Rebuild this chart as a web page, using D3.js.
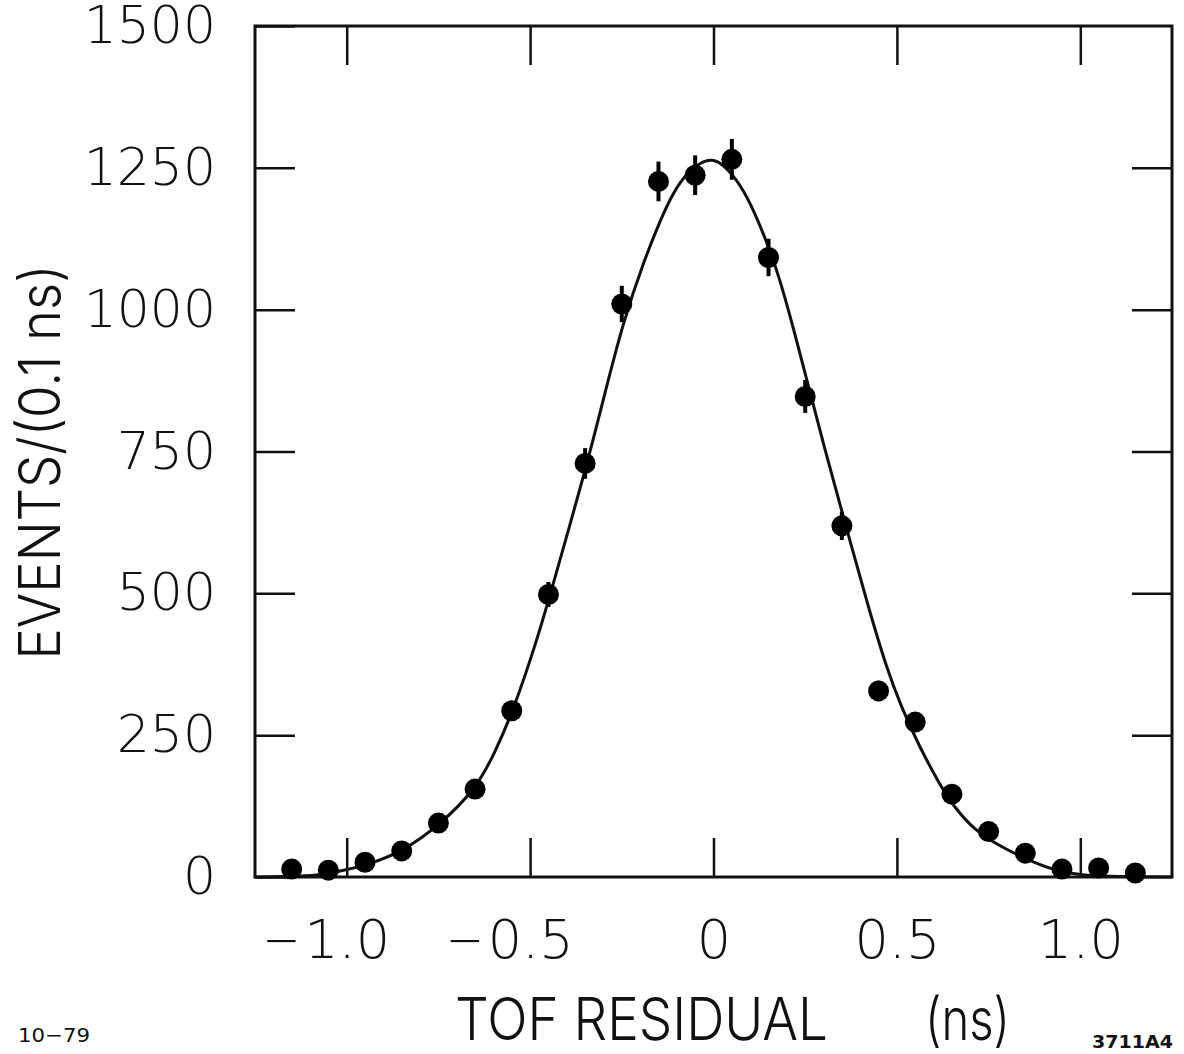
<!DOCTYPE html>
<html>
<head>
<meta charset="utf-8">
<script src="https://cdn.jsdelivr.net/npm/d3@7"></script>
<style>
  body { margin: 0; background: #fff; }
  svg { display: block; }
</style>
</head>
<body>
<script>
// bin centres (ns) and counts per 0.1 ns
const binCentres = [-1.15, -1.05, -0.95, -0.85, -0.75, -0.65, -0.55, -0.45, -0.35, -0.25, -0.15, -0.05,
                    0.05, 0.15, 0.25, 0.35, 0.45, 0.55, 0.65, 0.75, 0.85, 0.95, 1.05, 1.15];
const counts = [14, 12, 26, 46, 95, 155, 293, 498, 729, 1010, 1226, 1237,
                1265, 1092, 847, 619, 328, 273, 146, 80, 42, 14, 16, 7];
const errors = [4, 3, 5, 7, 10, 12, 17, 22, 27, 32, 35, 35,
                36, 33, 29, 25, 18, 17, 12, 9, 6, 4, 4, 3];

// fitted curve
const fitX = [-1.25, -1.15, -1.08, -1.025, -0.943, -0.844, -0.746, -0.648, -0.596, -0.546, -0.481,
              -0.445, -0.344, -0.303, -0.246, -0.186, -0.145, -0.109, -0.071, -0.036, -0.008,
              0.019, 0.060, 0.101, 0.148, 0.178, 0.219, 0.257, 0.301, 0.352, 0.369, 0.421,
              0.475, 0.511, 0.557, 0.620, 0.656, 0.710, 0.784, 0.858, 0.929, 0.995, 1.06, 1.25];
const fitY = [0, 1, 3, 9, 21, 46, 92, 155, 219, 293, 418,
              498, 729, 835, 980, 1092, 1158, 1208, 1242, 1259, 1265,
              1260, 1233, 1189, 1115, 1060, 965, 870, 760, 640, 600, 478,
              362, 302, 235, 159, 124, 83, 53, 30, 12, 4, 1, 0];

const xTicks = [-1.0, -0.5, 0, 0.5, 1.0];
const yTicks = [0, 250, 500, 750, 1000, 1250, 1500];

const W = 1184, H = 1054;
const plotL = 255, plotR = 1172, plotT = 26, plotB = 877;

const svg = d3.select("body").append("svg")
  .attr("width", W)
  .attr("height", H);

const x = d3.scaleLinear().domain([-1.25, 1.25]).range([plotL, plotR]);
const y = d3.scaleLinear().domain([0, 1500]).range([plotB, plotT]);

const tickFont = "'DejaVu Sans', sans-serif";
const titleFont = "Inter, 'DejaVu Sans Condensed', sans-serif";
// the minus sign is drawn apart, hanging left of the number
const fmtX = d => d === 0 ? "0" : Math.abs(d).toFixed(1);

// bottom axis, ticks pointing inward
const xAxis = svg.append("g")
  .attr("transform", "translate(0," + plotB + ")")
  .call(d3.axisBottom(x).tickValues(xTicks).tickSize(-39).tickSizeOuter(0).tickPadding(42).tickFormat(fmtX));

// top axis, ticks only
svg.append("g")
  .attr("transform", "translate(0," + plotT + ")")
  .call(d3.axisTop(x).tickValues(xTicks).tickSize(-39).tickSizeOuter(0).tickFormat(""));

const yAxis = svg.append("g")
  .attr("transform", "translate(" + plotL + ",0)")
  .call(d3.axisLeft(y).tickValues(yTicks).tickSize(-40).tickSizeOuter(0).tickPadding(39).tickFormat(d3.format("d")));

svg.append("g")
  .attr("transform", "translate(" + plotR + ",0)")
  .call(d3.axisRight(y).tickValues(yTicks.slice(1, -1)).tickSize(-40).tickSizeOuter(0).tickFormat(""));

svg.selectAll(".domain").remove();
svg.selectAll(".tick line").attr("stroke", "#111").attr("stroke-width", 2.5);

xAxis.selectAll("text")
  .attr("fill", "#111")
  .style("font-family", tickFont)
  .style("font-weight", "200")
  .style("font-size", "54px")
  .attr("dy", "0.72em");

xAxis.selectAll(".tick").each(function(d) {
  if (d >= 0) return;
  const g = d3.select(this);
  const t = g.select("text");
  const w = t.node().getComputedTextLength();
  g.append("text")
    .text("\u2212")
    .attr("x", -w / 2 - 4)
    .attr("y", t.attr("y"))
    .attr("dy", "0.72em")
    .attr("text-anchor", "end")
    .attr("textLength", 38)
    .attr("lengthAdjust", "spacingAndGlyphs")
    .attr("fill", "#111")
    .style("font-family", tickFont)
    .style("font-weight", "200")
    .style("font-size", "54px");
});

yAxis.selectAll("text")
  .attr("fill", "#111")
  .style("font-family", tickFont)
  .style("font-weight", "200")
  .style("font-size", "52px");

// frame
svg.append("rect")
  .attr("x", plotL).attr("y", plotT)
  .attr("width", plotR - plotL).attr("height", plotB - plotT)
  .attr("fill", "none")
  .attr("stroke", "#111")
  .attr("stroke-width", 3);

// fit curve
const fit = fitX.map((d, i) => [d, fitY[i]]);
svg.append("path")
  .datum(fit)
  .attr("fill", "none")
  .attr("stroke", "#111")
  .attr("stroke-width", 3)
  .attr("d", d3.line().x(d => x(d[0])).y(d => y(d[1])).curve(d3.curveBasis));

// data points with error bars
const pts = binCentres.map((d, i) => ({ x: d, v: counts[i], e: errors[i] }));

svg.selectAll("line.err")
  .data(pts)
  .enter()
  .append("line")
  .attr("class", "err")
  .attr("x1", d => x(d.x)).attr("x2", d => x(d.x))
  .attr("y1", d => y(d.v - d.e)).attr("y2", d => y(d.v + d.e))
  .attr("stroke", "#000")
  .attr("stroke-width", 4);

svg.selectAll("circle")
  .data(pts)
  .enter()
  .append("circle")
  .attr("cx", d => x(d.x))
  .attr("cy", d => y(d.v))
  .attr("r", 10.5)
  .attr("fill", "#000");

// axis titles
svg.append("text")
  .text("EVENTS/(0.1 ns)")
  .attr("transform", "translate(60,462) rotate(-90)")
  .attr("text-anchor", "middle")
  .attr("textLength", 395)
  .attr("lengthAdjust", "spacingAndGlyphs")
  .style("font-family", titleFont)
  .style("font-weight", "300")
  .style("font-size", "57px")
  .attr("fill", "#111");

svg.append("text")
  .text("TOF RESIDUAL")
  .attr("x", 455).attr("y", 1040)
  .attr("textLength", 373)
  .attr("lengthAdjust", "spacingAndGlyphs")
  .style("font-family", titleFont)
  .style("font-weight", "300")
  .style("font-size", "59px")
  .attr("fill", "#111");

svg.append("text")
  .text("(ns)")
  .attr("x", 925).attr("y", 1040)
  .attr("textLength", 85)
  .attr("lengthAdjust", "spacingAndGlyphs")
  .style("font-family", titleFont)
  .style("font-weight", "300")
  .style("font-size", "59px")
  .attr("fill", "#111");

svg.append("text")
  .text("10\u221279")
  .attr("x", 18).attr("y", 1042)
  .attr("textLength", 72)
  .attr("lengthAdjust", "spacingAndGlyphs")
  .style("font-family", "'DejaVu Sans', sans-serif")
  .style("font-size", "20px")
  .attr("fill", "#111");

svg.append("text")
  .text("3711A4")
  .attr("x", 1092).attr("y", 1048)
  .attr("textLength", 81)
  .attr("lengthAdjust", "spacingAndGlyphs")
  .style("font-family", "'DejaVu Sans', sans-serif")
  .style("font-weight", "bold")
  .style("font-size", "18px")
  .attr("fill", "#111");
</script>
</body>
</html>
